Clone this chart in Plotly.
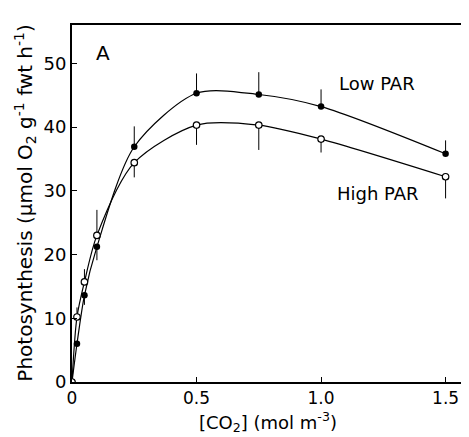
import plotly.graph_objects as go

co2 = [0, 0.02, 0.05, 0.1, 0.25, 0.5, 0.75, 1.0, 1.5]
low_par = [0, 6.0, 13.6, 21.2, 36.9, 45.3, 45.1, 43.2, 35.8]
high_par = [0, 10.2, 15.7, 23.0, 34.4, 40.3, 40.3, 38.1, 32.2]
low_err_plus = [0, 0, 0, 0, 3.2, 3.1, 3.5, 2.7, 2.1]
low_err_minus = [0, 0, 1.5, 2.1, 0, 0, 0, 0, 0]
high_err_plus = [0, 1.5, 2.0, 4.0, 0, 0, 0, 0, 0]
high_err_minus = [0, 0, 0, 0, 2.3, 3.1, 3.9, 2.1, 3.4]

x_ticks = [0, 0.5, 1.0, 1.5]
x_tick_labels = ["0", "0.5", "1.0", "1.5"]
y_ticks = [0, 10, 20, 30, 40, 50]

FONT = "DejaVu Sans"

fig = go.Figure()
fig.add_trace(go.Scatter(
    x=co2, y=low_par, mode="lines+markers", name="Low PAR",
    line=dict(color="black", width=1.2, shape="spline", smoothing=0.8),
    marker=dict(symbol="circle", size=6.5, color="black"),
    error_y=dict(type="data", symmetric=False, array=low_err_plus,
                 arrayminus=low_err_minus, width=0, thickness=1, color="black"),
))
fig.add_trace(go.Scatter(
    x=co2, y=high_par, mode="lines+markers", name="High PAR",
    line=dict(color="black", width=1.2, shape="spline", smoothing=0.8),
    marker=dict(symbol="circle", size=6.5, color="white", line=dict(color="black", width=1.2)),
    error_y=dict(type="data", symmetric=False, array=high_err_plus,
                 arrayminus=high_err_minus, width=0, thickness=1, color="black"),
))

# page has an 8px body margin; compensate so the plot lands where the reference has it
fig.update_layout(
    width=461, height=429,
    margin=dict(l=64, r=0, t=17, b=55),
    paper_bgcolor="white", plot_bgcolor="white",
    showlegend=False,
    font=dict(family=FONT, size=17, color="black"),
    xaxis=dict(range=[0, 1.594], tickvals=x_ticks, ticktext=x_tick_labels,
               showline=True, linecolor="black", linewidth=2, mirror=True,
               ticks="inside", ticklen=5, tickcolor="black", showgrid=False,
               zeroline=False, tickfont=dict(family=FONT, size=17)),
    yaxis=dict(range=[0, 56], tickvals=y_ticks,
               showline=True, linecolor="black", linewidth=2, mirror=False,
               ticks="inside", ticklen=5, tickcolor="black", showgrid=False,
               zeroline=False, tickfont=dict(family=FONT, size=18)),
    annotations=[
        dict(x=0.125, y=51.6, xref="x", yref="y", text="A", showarrow=False,
             xanchor="center", yanchor="middle", font=dict(family=FONT, size=20)),
        dict(x=1.224, y=46.8, xref="x", yref="y", text="Low PAR", showarrow=False,
             xanchor="center", yanchor="middle", font=dict(family=FONT, size=18)),
        dict(x=1.229, y=29.6, xref="x", yref="y", text="High PAR", showarrow=False,
             xanchor="center", yanchor="middle", font=dict(family=FONT, size=18)),
        dict(x=-0.118, y=0.50, xref="paper", yref="paper", textangle=-90,
             xanchor="center", yanchor="middle",
             text="Photosynthesis (μmol O<sub>2</sub> g<sup>-1</sup> fwt h<sup>-1</sup>)",
             showarrow=False, font=dict(family=FONT, size=20)),
        dict(x=0.494, y=-0.112, xref="paper", yref="paper",
             xanchor="center", yanchor="middle",
             text="[CO<sub>2</sub>] (mol m<sup>-3</sup>)",
             showarrow=False, font=dict(family=FONT, size=18)),
    ],
)

fig.write_html("out.html")
